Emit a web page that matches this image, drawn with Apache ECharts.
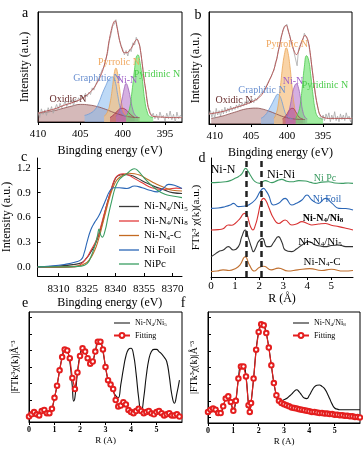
<!DOCTYPE html>
<html><head><meta charset="utf-8">
<script src="https://cdn.jsdelivr.net/npm/echarts@6/dist/echarts.min.js"></script>
<style>html,body{margin:0;padding:0;background:#fff}#c{width:363px;height:454px}</style>
</head><body><div id="c"></div>
<script>
// ---------- tick labels ----------
const xpsTicks = [395, 400, 405, 410];
const xanesTicks = [8310, 8325, 8340, 8355, 8370];
const xanesYTicks = [0, 0.3, 0.6, 0.9, 1.2];
const rTicks = [0, 1, 2, 3, 4, 5];
const ftYTicks = [5, 20, 35, 50, 65, 80, 95];
const dDashR = [1.45, 2.1];

// ---------- panel a (XPS N 1s) ----------
const aRaw = [[410,9],[409.8,4],[409.6,12],[409.4,7],[409.2,11],[409,6],[408.8,13],[408.6,9],[408.4,14],[408.2,8],[408,12],[407.8,16],[407.6,11],[407.4,17],[407.2,13],[407,15],[406.8,19],[406.6,14],[406.4,18],[406.2,16],[406,20],[405.8,15],[405.6,21],[405.4,18],[405.2,22],[405,19],[404.8,24],[404.6,21],[404.4,26],[404.2,23],[404,27],[403.8,25],[403.6,31],[403.4,29],[403.2,34],[403,35],[402.8,40],[402.6,41],[402.4,48],[402.2,50],[402,57],[401.8,62],[401.6,73],[401.4,79],[401.2,87],[401,89],[400.8,93],[400.6,84],[400.4,75],[400.2,70],[400,66],[399.8,61],[399.6,65],[399.4,60],[399.2,66],[399,64],[398.8,72],[398.6,70],[398.4,77],[398.2,73],[398,70],[397.8,59],[397.6,48],[397.4,34],[397.2,25],[397,14],[396.8,10],[396.6,5],[396.4,8],[396.2,3],[396,7],[395.8,2],[395.6,9],[395.4,4],[395.2,6],[395,1],[394.8,8],[394.6,3],[394.4,10],[394.2,2],[394,7],[393.8,0],[393.6,9],[393.4,3],[393.2,6],[393,4]];
const aEnvelope = [[410,8],[409,10],[408,12],[407,15],[406,17.5],[405,20.5],[404.5,23],[404,26],[403.5,30],[403,36],[402.5,44],[402.2,51],[401.9,60],[401.6,74],[401.3,85],[401.1,90],[400.9,92],[400.7,87],[400.5,79],[400.3,72],[400.1,67],[399.8,63],[399.5,63],[399.2,65],[399,67],[398.7,71],[398.5,74],[398.3,75],[398.1,72],[397.9,65],[397.7,53],[397.5,40],[397.3,30],[397.1,18],[396.9,11],[396.7,7],[396.3,5],[395.5,4.5],[394,4],[393,4]];
const aOxidic = [[410,8],[409,9],[408,10.5],[407,12.5],[406,14.5],[405,16],[404,15.5],[403,14],[402,11.5],[401,8.5],[400,6],[399,4.5],[398,4]];
const aGraphitic = [[404.5,6],[403.8,8],[403.2,12],[402.8,18],[402.4,26],[402,33],[401.6,39],[401.2,41],[400.9,37],[400.6,25],[400.3,13],[400,7],[399.5,5]];
const aPyrrolic = [[402.2,5],[401.8,9],[401.5,17],[401.2,32],[401,44],[400.8,49],[400.6,44],[400.4,32],[400.1,16],[399.8,8],[399.4,5]];
const aNiN = [[400.8,5],[400.4,10],[400.1,20],[399.8,31],[399.6,35],[399.4,32],[399.1,22],[398.8,11],[398.5,6],[398.2,4.5]];
const aPyridinic = [[399.6,5],[399.2,12],[398.9,28],[398.6,48],[398.4,59],[398.2,61],[398,56],[397.7,40],[397.4,20],[397.1,9],[396.8,5],[396.4,4]];
const aSat = [[401.5,4],[401,7],[400.5,11],[400.1,12.5],[399.6,11],[399.1,7],[398.6,4]];

// ---------- panel b ----------
const bRaw = [[410.8,8],[410.6,12],[410.4,6],[410.2,11],[410,5],[409.8,14],[409.6,8],[409.4,12],[409.2,7],[409,13],[408.8,9],[408.6,15],[408.4,10],[408.2,14],[408,11],[407.8,16],[407.6,12],[407.4,15],[407.2,13],[407,17],[406.8,14],[406.6,18],[406.4,15],[406.2,19],[406,16],[405.8,20],[405.6,17],[405.4,21],[405.2,18],[405,20],[404.8,22],[404.6,19],[404.4,23],[404.2,21],[404,24],[403.8,23],[403.6,27],[403.4,26],[403.2,30],[403,31],[402.8,35],[402.6,36],[402.4,40],[402.2,42],[402,46],[401.8,48],[401.6,55],[401.4,58],[401.2,66],[401,70],[400.8,78],[400.6,82],[400.4,87],[400.2,86],[400,89],[399.8,82],[399.6,79],[399.4,71],[399.2,69],[399,63],[398.8,64],[398.6,52],[398.4,67],[398.2,68],[398,73],[397.8,75],[397.6,81],[397.4,78],[397.2,76],[397,71],[396.8,63],[396.6,53],[396.4,43],[396.2,33],[396,23],[395.8,17],[395.6,10],[395.4,9],[395.2,4],[395,8],[394.8,3],[394.6,9],[394.4,5],[394.2,10],[394,2],[393.8,8],[393.6,4],[393.4,11],[393.2,3],[393,7],[392.8,2],[392.6,9],[392.4,4],[392.2,8],[392,3],[391.8,10],[391.6,5],[391.4,7],[391.2,2],[391,6]];
const bEnvelope = [[410.8,9],[409,11],[408,13],[407,15],[406,17],[405,19.5],[404,23],[403.3,28],[402.8,34],[402.3,41],[401.9,47],[401.5,56],[401.2,65],[401,71],[400.7,80],[400.4,86],[400.1,88],[399.9,85],[399.6,78],[399.3,71],[399,65],[398.7,62],[398.4,65],[398.1,71],[397.8,76],[397.5,79],[397.3,78],[397,72],[396.8,64],[396.5,48],[396.2,33],[396,24],[395.7,14],[395.4,8],[395,6],[394,5],[391,5]];
const bOxidic = [[410.5,5],[409,7],[408,9],[407,11],[406,13],[405,14],[404.4,14.2],[403.5,13.5],[402.5,11.5],[401.5,9],[400.5,6.5],[399.5,5],[398.5,4.2],[397.5,4]];
const bGraphitic = [[403.6,5],[403,8],[402.5,13],[402,19],[401.6,24],[401.3,26.5],[401,25],[400.7,20],[400.4,13],[400.1,8],[399.7,5.5],[399.2,4.5]];
const bPyrrolic = [[401.8,5],[401.5,9],[401.2,18],[400.9,34],[400.6,52],[400.3,64],[400.1,68],[399.9,65],[399.6,52],[399.3,33],[399,17],[398.7,8],[398.4,5]];
const bNiN = [[400.2,5],[399.9,8],[399.6,15],[399.3,25],[399,33],[398.7,36],[398.4,32],[398.1,22],[397.8,11],[397.5,6],[397.2,4.5]];
const bPyridinic = [[398.8,5],[398.5,9],[398.2,16],[397.9,32],[397.6,51],[397.3,61],[397,57],[396.7,43],[396.4,26],[396.1,13],[395.8,7],[395.4,5],[395,4.5]];
const bSat = [[400.6,4.5],[400.1,8],[399.6,13],[399.2,14],[398.8,11],[398.3,6],[397.8,4.5]];

// ---------- panel c (XANES) ----------
const cNiN4Ni5 = [[8299,0],[8310,0.01],[8318,0.03],[8322,0.05],[8324.5,0.1],[8327,0.18],[8330,0.31],[8333,0.53],[8335,0.72],[8337,0.88],[8339,1.02],[8341,1.1],[8344,1.12],[8348,1.11],[8352,1.07],[8356,1.02],[8361,0.97],[8365,0.94],[8370,0.9],[8375,0.89]];
const cNiN4Ni8 = [[8299,-0.005],[8310,-0.005],[8318,0],[8321,0.02],[8324.5,0.1],[8327,0.2],[8330,0.33],[8332,0.47],[8334,0.64],[8336,0.8],[8338,0.96],[8340,1.08],[8342,1.12],[8344,1.13],[8347,1.11],[8350,1.07],[8354,1.02],[8359,0.96],[8364,0.94],[8368,0.945],[8372,0.955],[8375,0.95]];
const cNiN4C = [[8299,0],[8312,0],[8320,0.01],[8323,0.03],[8326,0.08],[8329,0.2],[8331,0.33],[8333,0.5],[8335,0.68],[8337,0.85],[8339,0.98],[8341,1.06],[8344,1.11],[8347,1.135],[8350,1.13],[8353,1.11],[8357,1.06],[8361,1.01],[8366,0.96],[8370,0.93],[8375,0.92]];
const cNiFoil = [[8299,0],[8306,0.01],[8313,0.03],[8319,0.06],[8322,0.09],[8323.5,0.17],[8325,0.3],[8327,0.45],[8329,0.54],[8331,0.61],[8333,0.71],[8335,0.82],[8337,0.92],[8339,0.96],[8342,0.96],[8346,0.95],[8350,0.98],[8354,0.96],[8358,0.93],[8362,0.91],[8365,0.95],[8368,1],[8371,0.99],[8375,0.95]];
const cNiPc = [[8299,0],[8315,0],[8322,0.01],[8325,0.04],[8327,0.12],[8329,0.25],[8330.5,0.38],[8331.3,0.46],[8332,0.4],[8333,0.36],[8334.5,0.44],[8336,0.6],[8338,0.8],[8340,0.97],[8342,1.06],[8344,1.1],[8346,1.13],[8348,1.17],[8350,1.19],[8352,1.16],[8355,1.08],[8358,1.01],[8362,0.93],[8366,0.88],[8370,0.86],[8375,0.84]];

// ---------- panel d (FT-EXAFS, offset curves as read) ----------
const dNiPc = [[0,7.93],[0.3,7.95],[0.6,8],[0.8,8.1],[1,8.29],[1.15,8.45],[1.28,8.66],[1.44,9.13],[1.55,8.85],[1.63,8.57],[1.83,8.01],[2.04,7.87],[2.25,8.1],[2.53,7.93],[2.75,8.1],[2.94,8.2],[3.15,8.05],[3.36,8],[3.65,8.1],[3.92,8.07],[4.15,7.95],[4.33,7.87],[4.6,7.97],[4.89,8],[5.15,7.9],[5.44,7.87],[5.7,7.9],[5.9,7.87]];
const dNiFoil = [[0,5.77],[0.3,5.8],[0.58,5.91],[0.8,6.05],[0.93,6.19],[1.14,5.91],[1.35,5.95],[1.56,6.05],[1.83,6.47],[2.04,7.17],[2.18,7.45],[2.3,7.2],[2.39,6.89],[2.6,6.05],[2.81,6.19],[3.08,6.61],[3.36,6.05],[3.55,6.2],[3.78,6.47],[3.99,6.89],[4.19,6.47],[4.47,6.19],[4.75,6.61],[5.03,6.19],[5.31,5.77],[5.6,5.75],[5.9,5.63]];
const dNiN4Ni8 = [[0,3.95],[0.3,3.98],[0.5,4.05],[0.72,4.37],[0.85,4.35],[1,4.5],[1.21,4.93],[1.39,5.35],[1.5,5.2],[1.56,4.79],[1.65,4.2],[1.74,3.95],[1.85,4.4],[1.94,5.07],[2.08,6.33],[2.18,6.61],[2.3,6.35],[2.39,5.91],[2.6,4.93],[2.81,4.5],[3.08,4.79],[3.36,4.37],[3.55,4.45],[3.78,4.65],[4,4.5],[4.19,4.37],[4.47,4.45],[4.75,4.5],[5,4.35],[5.31,4.23],[5.6,4.1],[5.9,3.95]];
const dNiN4Ni5 = [[0,1.71],[0.15,1.9],[0.31,2.13],[0.51,2.27],[0.72,2.55],[0.93,2.27],[1.14,2.55],[1.28,3.39],[1.42,3.95],[1.56,3.25],[1.68,2.5],[1.76,2.13],[1.87,2.5],[1.97,2.97],[2.14,3.25],[2.32,2.55],[2.45,2.55],[2.6,2.9],[2.8,3.39],[2.95,2.9],[3.08,2.27],[3.36,2.13],[3.55,2.35],[3.78,2.69],[4.06,2.97],[4.33,2.69],[4.55,2.6],[4.75,2.55],[5,2.65],[5.31,2.69],[5.6,2.55],[5.9,2.55]];
const dNiN4C = [[0,0.45],[0.25,0.5],[0.5,0.6],[0.75,0.55],[1,0.7],[1.2,1],[1.42,1.7],[1.6,1],[1.8,0.5],[2,0.8],[2.2,0.9],[2.5,0.6],[2.8,0.75],[3.2,0.5],[3.6,0.6],[4.1,0.7],[4.6,0.55],[5,0.65],[5.5,0.5],[5.9,0.55]];

// ---------- panel e ----------
const eData = [[0,5],[0.1,7],[0.2,9],[0.3,7],[0.4,6],[0.5,10],[0.6,11],[0.7,8],[0.8,8],[0.9,12],[1,22],[1.1,33],[1.2,47],[1.3,59],[1.4,66],[1.5,65],[1.6,55],[1.7,32],[1.75,19],[1.8,22],[1.9,45],[2,61],[2.1,67],[2.2,64],[2.3,58],[2.4,53],[2.5,55],[2.6,64],[2.7,72],[2.8,72],[2.9,64],[3,50],[3.1,38],[3.2,33],[3.3,28],[3.4,24],[3.5,22],[3.6,34],[3.7,48],[3.8,60],[3.9,66],[4,67],[4.1,61],[4.2,44],[4.3,22],[4.4,8],[4.5,22],[4.6,42],[4.7,57],[4.8,64],[4.9,66],[5,66],[5.1,64],[5.2,62],[5.3,59],[5.4,55],[5.5,42],[5.6,25],[5.7,17],[5.8,26],[5.9,38]];
const eFit = [[0,5],[0.1,7],[0.2,9],[0.3,7],[0.4,6],[0.5,10],[0.6,11],[0.7,8],[0.8,8],[0.9,12],[1,22],[1.1,33],[1.2,47],[1.3,59],[1.4,66],[1.5,65],[1.6,58],[1.7,40],[1.8,30],[1.9,45],[2,60],[2.1,67],[2.2,64],[2.3,58],[2.4,53],[2.5,55],[2.6,64],[2.7,73],[2.8,73],[2.9,66],[3,50],[3.1,38],[3.2,34],[3.3,30],[3.4,20],[3.5,14],[3.6,15],[3.7,18],[3.8,16],[3.9,11],[4,9],[4.1,8],[4.2,10],[4.3,12],[4.4,10],[4.5,8],[4.6,9],[4.7,10],[4.8,8],[4.9,7],[5,9],[5.1,10],[5.2,8],[5.3,6],[5.4,7],[5.5,8],[5.6,6],[5.7,6],[5.8,7],[5.9,5]];

// ---------- panel f ----------
const fData = [[0,10],[0.1,12],[0.2,13],[0.3,12],[0.4,9],[0.5,9],[0.6,15],[0.7,22],[0.8,24],[0.9,19],[1,11],[1.1,20],[1.2,40],[1.3,51],[1.4,51],[1.5,42],[1.6,16],[1.65,10],[1.7,18],[1.8,40],[1.9,66],[2,82],[2.1,89],[2.2,88],[2.3,81],[2.4,68],[2.5,52],[2.6,36],[2.7,25],[2.8,20],[2.9,20],[3,21],[3.1,22],[3.2,24],[3.3,26],[3.4,28.5],[3.5,30],[3.6,28],[3.7,25],[3.8,22.5],[3.9,22],[4,25],[4.1,29],[4.2,32.5],[4.3,34],[4.4,34.2],[4.5,33],[4.6,31],[4.7,27],[4.8,22],[4.9,17],[5,13.5],[5.1,12.5],[5.2,12],[5.4,12],[5.6,12],[5.8,12],[6,12]];
const fFit = [[0,10],[0.1,12],[0.2,13],[0.3,12],[0.4,9],[0.5,9],[0.6,15],[0.7,22],[0.8,24],[0.9,19],[1,11],[1.1,20],[1.2,40],[1.3,51],[1.4,51],[1.5,42],[1.6,16],[1.65,10],[1.7,18],[1.8,40],[1.9,66],[2,82],[2.1,89],[2.2,88],[2.3,81],[2.4,68],[2.5,52],[2.6,36],[2.7,25],[2.8,20],[2.9,18],[3,17],[3.1,16],[3.2,15],[3.3,14],[3.4,13.5],[3.5,13],[3.6,12.5],[3.7,12],[3.8,11.5],[3.9,11],[4,10.5],[4.1,10],[4.2,10],[4.3,9.5],[4.4,9],[4.5,9],[4.6,8.5],[4.7,8.5],[4.8,8],[4.9,8],[5,7.5],[5.1,7.5],[5.2,7],[5.3,7],[5.4,6.5],[5.5,6.5],[5.6,6],[5.7,6],[5.8,5.5],[5.9,5.5],[6,5]];

// ---------- build ----------
const FONT = 'Liberation Serif';
const LINE_ICON = 'path://M0,0 L20,0 L20,1.3 L0,1.3 Z';
const chart = echarts.init(document.getElementById('c'), null, {renderer: 'canvas'});

function sub(name) {
  return '{n|' + name.trim().replace(/N(\d)/g, 'N}{s|$1}{n|').replace(/i(\d)/g, 'i}{s|$1}{n|') + '}';
}
function rich(fs) {
  return {n: {fontSize: fs, fontFamily: FONT, color: '#000'},
          s: {fontSize: Math.round(fs * 0.65), fontFamily: FONT, color: '#000', padding: [Math.round(fs * 0.45), 0, 0, 0]}};
}

function xpsX(gi, min, max) {
  return {gridIndex: gi, type: 'value', min: min, max: max, inverse: true,
    axisLine: {onZero: false, lineStyle: {color: '#000', width: 1}},
    axisTick: {inside: false, length: 3, customValues: xpsTicks, lineStyle: {color: '#000'}},
    axisLabel: {customValues: xpsTicks, color: '#000', fontSize: 11, fontFamily: FONT, margin: 7},
    splitLine: {show: false},
    name: 'Bingding energy (eV)', nameLocation: 'middle', nameGap: 23,
    nameTextStyle: {fontSize: 12, color: '#000', fontFamily: FONT}};
}
function plainY(gi, min, max, name, gap, fs) {
  return {gridIndex: gi, type: 'value', min: min, max: max,
    axisLine: {show: true, onZero: false, lineStyle: {color: '#000'}},
    axisTick: {show: false}, axisLabel: {show: false}, splitLine: {show: false},
    name: name, nameLocation: 'middle', nameGap: gap,
    nameTextStyle: {fontSize: fs, color: '#000', fontFamily: FONT}};
}
function rX(gi, max, nameGap, fs, lfs, name) {
  return {gridIndex: gi, type: 'value', min: 0, max: max,
    axisLine: {onZero: false, lineStyle: {color: '#000'}},
    axisTick: {inside: false, length: 3, customValues: rTicks, lineStyle: {color: '#000'}},
    axisLabel: {customValues: rTicks, color: '#000', fontSize: lfs, fontWeight: lfs < 10 ? 'bold' : 'normal', fontFamily: FONT, margin: 4},
    splitLine: {show: false},
    name: name, nameLocation: 'middle', nameGap: nameGap,
    nameTextStyle: {fontSize: fs, color: '#000', fontFamily: FONT}};
}

function comp(xi, data, line, fill) {
  return {type: 'line', xAxisIndex: xi, yAxisIndex: xi, data: data, smooth: true, symbol: 'none',
    silent: true, lineStyle: {color: line, width: 0.8}, areaStyle: {color: fill, opacity: 1}, z: 3};
}
function plain(xi, name, data, color, w, smooth) {
  return {type: 'line', name: name, xAxisIndex: xi, yAxisIndex: xi, data: data, smooth: smooth, symbol: 'none',
    lineStyle: {color: color, width: w}, itemStyle: {color: color}, z: 4};
}

const compColors = {
  ox: ['#8a4a4a', 'rgba(150,80,80,0.4)'],
  gr: ['#6f9cd8', 'rgba(135,185,238,0.55)'],
  py: ['#eaa456', 'rgba(246,192,128,0.7)'],
  ni: ['#9a62b8', 'rgba(178,110,200,0.55)'],
  pd: ['#4cc84c', 'rgba(110,228,110,0.65)'],
  sat: ['#a83050', 'rgba(180,50,80,0.5)']
};

const series = [];
[[0, aRaw, aEnvelope, aOxidic, aGraphitic, aPyrrolic, aNiN, aPyridinic, aSat],
 [1, bRaw, bEnvelope, bOxidic, bGraphitic, bPyrrolic, bNiN, bPyridinic, bSat]].forEach(p => {
  const xi = p[0];
  series.push(plain(xi, '', p[1], '#a8a8a8', 0.8, false));
  series.push(comp(xi, p[3], compColors.ox[0], compColors.ox[1]));
  series.push(comp(xi, p[4], compColors.gr[0], compColors.gr[1]));
  series.push(comp(xi, p[5], compColors.py[0], compColors.py[1]));
  series.push(comp(xi, p[8], compColors.sat[0], compColors.sat[1]));
  series.push(comp(xi, p[6], compColors.ni[0], compColors.ni[1]));
  series.push(comp(xi, p[7], compColors.pd[0], compColors.pd[1]));
  const env = plain(xi, '', p[2], '#b65a5a', 1, true);
  env.z = 5;
  series.push(env);
});

series.push(plain(2, 'Ni-N4/Ni5', cNiN4Ni5, '#3a3a3a', 1.1, true));
series.push(plain(2, 'Ni-N4/Ni8', cNiN4Ni8, '#e23c3c', 1.1, true));
series.push(plain(2, 'Ni-N4-C', cNiN4C, '#c46a22', 1.1, true));
series.push(plain(2, 'Ni Foil', cNiFoil, '#2a66b6', 1.1, true));
series.push(plain(2, 'NiPc', cNiPc, '#3a9e62', 1.1, true));

const dg = plain(3, 'd1', dNiPc, '#3c9c64', 1.1, true);
dg.markLine = {symbol: 'none', silent: true, label: {show: false},
  lineStyle: {type: [6, 4], color: '#222', width: 2.5},
  data: dDashR.map(v => ({xAxis: v}))};
series.push(dg);
series.push(plain(3, 'd2', dNiFoil, '#2a66b6', 1.1, true));
series.push(plain(3, 'd3', dNiN4Ni8, '#d83232', 1.1, true));
series.push(plain(3, 'd4', dNiN4Ni5, '#333333', 1.1, true));
series.push(plain(3, 'd5', dNiN4C, '#c07030', 1.1, true));

function fitSeries(xi, name, data) {
  return {type: 'line', name: name, xAxisIndex: xi, yAxisIndex: xi, data: data, smooth: false,
    symbol: 'emptyCircle', symbolSize: 4.5, showSymbol: true,
    lineStyle: {color: '#e41e1e', width: 1.2},
    itemStyle: {color: '#e41e1e', borderColor: '#e41e1e', borderWidth: 1.1}, z: 5};
}
series.push(plain(4, 'Ni-N4/Ni5 ', eData, '#111', 1.1, true));
series.push(fitSeries(4, 'Fitting', eFit));
series.push(plain(5, 'Ni-N4/Ni8 ', fData, '#111', 1.1, true));
series.push(fitSeries(5, 'Fitting ', fFit));

function txt(x, y, t, color, fs, weight) {
  return {type: 'text', x: x, y: y, silent: true, z: 100,
    style: {text: t, fill: color, font: (weight || 'normal') + ' ' + fs + 'px "' + FONT + '"', align: 'center', verticalAlign: 'middle'}};
}
function richTxt(x, y, t, color, fs, weight) {
  const r = rich(fs);
  r.n.color = color; r.s.color = color; r.n.fontWeight = weight || 'normal'; r.s.fontWeight = weight || 'normal';
  return {type: 'text', x: x, y: y, silent: true, z: 100,
    style: {text: sub(t), rich: r, align: 'center', verticalAlign: 'middle'}};
}

const labelsA = [['Oxidic N', 68, 99, '#6a3030'], ['Graphitic N', 97, 78, '#6a90d0'], ['Pyrrolic N', 119, 62, '#f0a860'], ['Ni-N', 127, 80, '#a060c8'], ['Pyridinic N', 157, 74, '#4ccc4c']];
const labelsB = [['Oxidic N', 234, 100, '#6a3030'], ['Graphitic N', 262, 90, '#6a90d0'], ['Pyrrolic N', 287, 44, '#f0a860'], ['Ni-N', 293, 81, '#a060c8'], ['Pyridinic N', 325, 85, '#4ccc4c']];

const graphic = [];
labelsA.concat(labelsB).forEach(l => graphic.push(txt(l[1], l[2], l[0], l[3], 10)));
[['a', 25, 13], ['b', 198, 15], ['c', 24, 157], ['d', 202, 158], ['e', 25, 303], ['f', 183, 303]].forEach(l => graphic.push(txt(l[1], l[2], l[0], '#000', 14)));
graphic.push(txt(223, 170, 'Ni-N', '#000', 12));
graphic.push(txt(281, 175, 'Ni-Ni', '#000', 12));
graphic.push(txt(325, 178, 'Ni Pc', '#3a9a60', 10));
graphic.push(txt(327, 199, 'Ni Foil', '#2a66b6', 10));
graphic.push(richTxt(323, 218, 'Ni-N4/Ni8', '#d83232', 10, 'bold'));
graphic.push(richTxt(320, 242, 'Ni-N4/Ni5', '#222', 11));
graphic.push(richTxt(322, 262, 'Ni-N4-C', '#c07030', 11));

const option = {
  animation: false,
  backgroundColor: '#fff',
  textStyle: {fontFamily: FONT},
  grid: [
    {left: 38, top: 12, width: 144, height: 110, show: true, borderColor: '#000', borderWidth: 1, backgroundColor: 'transparent'},
    {left: 209, top: 12, width: 143, height: 112, show: true, borderColor: '#000', borderWidth: 1, backgroundColor: 'transparent'},
    {left: 36, top: 158, width: 146, height: 118},
    {left: 211, top: 158, width: 142, height: 119},
    {left: 29, top: 312, width: 153, height: 110, show: true, borderColor: '#000', borderWidth: 1, backgroundColor: 'transparent'},
    {left: 208, top: 312, width: 152, height: 111, show: true, borderColor: '#000', borderWidth: 1, backgroundColor: 'transparent'}
  ],
  xAxis: [
    xpsX(0, 393, 410),
    xpsX(1, 391, 410.8),
    {gridIndex: 2, type: 'value', min: 8299, max: 8375,
      axisLine: {onZero: false, lineStyle: {color: '#000'}},
      axisTick: {inside: true, length: 3, customValues: xanesTicks, lineStyle: {color: '#000'}},
      axisLabel: {customValues: xanesTicks, color: '#000', fontSize: 11, fontFamily: FONT, margin: 8, formatter: v => String(v)},
      splitLine: {show: false},
      name: 'Bingding energy (eV)', nameLocation: 'middle', nameGap: 21,
      nameTextStyle: {fontSize: 12, color: '#000', fontFamily: FONT}},
    rX(3, 5.9, 14, 12, 11, 'R (Å)'),
    rX(4, 6, 14, 9, 8, 'R (A)'),
    rX(5, 6, 14, 9, 8, 'R (A)')
  ],
  yAxis: [
    plainY(0, 0, 100, 'Intensity (a.u.)', 7, 12),
    plainY(1, 0, 100, 'Intensity (a.u.)', 7, 12),
    {gridIndex: 2, type: 'value', min: -0.11, max: 1.32,
      axisLine: {show: true, onZero: false, lineStyle: {color: '#000'}},
      axisTick: {inside: true, length: 3, customValues: xanesYTicks, lineStyle: {color: '#000'}},
      axisLabel: {customValues: xanesYTicks, color: '#000', fontSize: 11, fontFamily: FONT, margin: 7, formatter: v => v.toFixed(1)},
      splitLine: {show: false},
      name: 'Intensity (a.u.)', nameLocation: 'middle', nameGap: 21,
      nameTextStyle: {fontSize: 12, color: '#000', fontFamily: FONT}},
    plainY(3, 0, 10, 'FTk³ χ(k)(a.u.)', 9, 11),
    Object.assign(plainY(4, 0, 100, '|FTk³χ(k)|Å⁻³', 9, 10), {axisTick: {show: true, inside: true, length: 3, customValues: ftYTicks, lineStyle: {color: '#000'}}}),
    Object.assign(plainY(5, 0, 100, '|FTk³χ(k)|Å⁻³', 9, 10), {axisTick: {show: true, inside: true, length: 3, customValues: ftYTicks, lineStyle: {color: '#000'}}})
  ],
  legend: [
    {left: 114, top: 196, orient: 'vertical', itemWidth: 20, itemHeight: 8, itemGap: 3, icon: LINE_ICON,
      data: ['Ni-N4/Ni5', 'Ni-N4/Ni8', 'Ni-N4-C', 'Ni Foil', 'NiPc'],
      formatter: sub, textStyle: {rich: rich(11)}, selectedMode: false},
    {left: 108, top: 314, orient: 'vertical', itemWidth: 16, itemHeight: 6, itemGap: 4,
      data: [{name: 'Ni-N4/Ni5 ', icon: LINE_ICON}, 'Fitting'], formatter: sub, textStyle: {rich: rich(8)}, selectedMode: false},
    {left: 287, top: 314, orient: 'vertical', itemWidth: 16, itemHeight: 6, itemGap: 4,
      data: [{name: 'Ni-N4/Ni8 ', icon: LINE_ICON}, 'Fitting '], formatter: sub, textStyle: {rich: rich(8)}, selectedMode: false}
  ],
  series: series,
  graphic: graphic
};
chart.setOption(option);
</script>
</body></html>
